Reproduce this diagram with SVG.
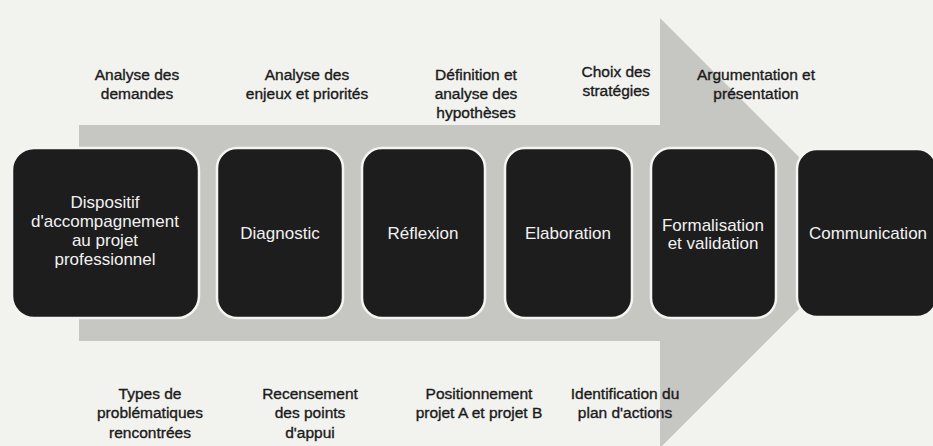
<svg xmlns="http://www.w3.org/2000/svg" width="933" height="446" viewBox="0 0 933 446">
<style>
.bg{fill:#f2f2ef}
.arrow{fill:#c6c6c3}
.box{fill:#1d1d1d;stroke:#f4f4f2;stroke-width:2.5}
.bt{font-family:"Liberation Sans",Arial,sans-serif;font-size:17px;fill:#f2f2f2;text-anchor:middle}
.lb{font-family:"Liberation Sans",Arial,sans-serif;font-size:15.5px;fill:#1a1a1a;stroke:#1a1a1a;stroke-width:0.35;text-anchor:middle}
</style>
<rect class="bg" x="0" y="0" width="933" height="446"/>
<g id="connectors">
<polygon class="arrow" points="79,125 660,125 660,18 875,233 660,448 660,341 79,341"/>
</g>
<g id="labels-top">
<text class="lb" x="137" y="80">Analyse des</text>
<text class="lb" x="137" y="99">demandes</text>
<text class="lb" x="307" y="80">Analyse des</text>
<text class="lb" x="307" y="99">enjeux et priorités</text>
<text class="lb" x="476" y="80">Définition et</text>
<text class="lb" x="476" y="99">analyse des</text>
<text class="lb" x="476" y="118">hypothèses</text>
<text class="lb" x="616" y="77">Choix des</text>
<text class="lb" x="616" y="96">stratégies</text>
<text class="lb" x="756" y="80">Argumentation et</text>
<text class="lb" x="756" y="99">présentation</text>
</g>
<g id="labels-bottom">
<text class="lb" x="150" y="399">Types de</text>
<text class="lb" x="150" y="418">problématiques</text>
<text class="lb" x="150" y="438">rencontrées</text>
<text class="lb" x="310" y="399">Recensement</text>
<text class="lb" x="310" y="418">des points</text>
<text class="lb" x="310" y="438">d'appui</text>
<text class="lb" x="479" y="399">Positionnement</text>
<text class="lb" x="479" y="418">projet A et projet B</text>
<text class="lb" x="625" y="399">Identification du</text>
<text class="lb" x="625" y="418">plan d'actions</text>
</g>
<g id="node-dispositif">
<rect class="box" x="12" y="148" width="187" height="170" rx="22"/>
<text class="bt" x="105" y="208">Dispositif</text>
<text class="bt" x="105" y="227">d'accompagnement</text>
<text class="bt" x="105" y="246">au projet</text>
<text class="bt" x="105" y="265">professionnel</text>
</g>
<g id="node-diagnostic">
<rect class="box" x="217" y="148" width="126" height="170" rx="20"/>
<text class="bt" x="280" y="239">Diagnostic</text>
</g>
<g id="node-reflexion">
<rect class="box" x="362" y="148" width="123" height="170" rx="20"/>
<text class="bt" x="423" y="239">Réflexion</text>
</g>
<g id="node-elaboration">
<rect class="box" x="505" y="148" width="127" height="170" rx="20"/>
<text class="bt" x="568" y="239">Elaboration</text>
</g>
<g id="node-formalisation">
<rect class="box" x="651" y="148" width="125" height="170" rx="20"/>
<text class="bt" x="713" y="231">Formalisation</text>
<text class="bt" x="713" y="249">et validation</text>
</g>
<g id="node-communication">
<rect class="box" x="797" y="149" width="140" height="168" rx="20"/>
<text class="bt" x="868" y="239">Communication</text>
</g>
</svg>
